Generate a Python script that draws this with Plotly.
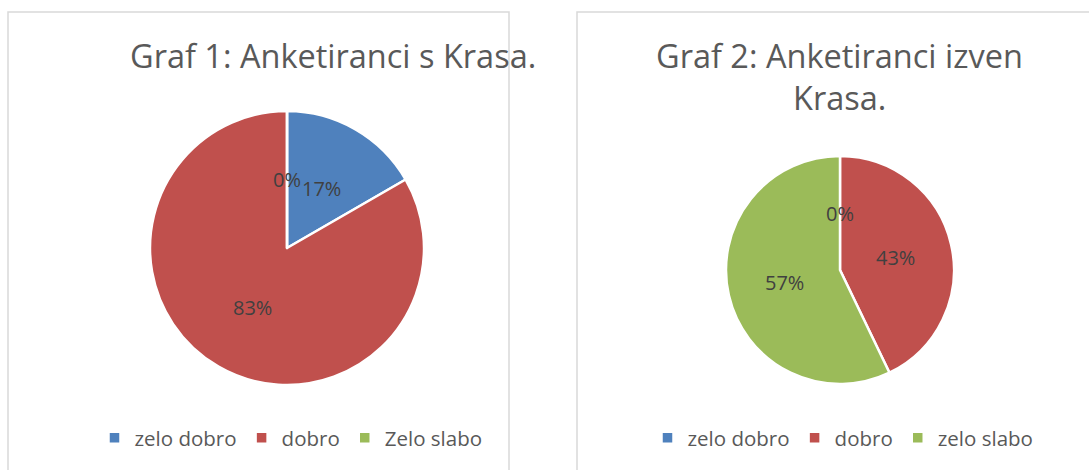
import math
import plotly.graph_objects as go

# ---- data ----
labels_1 = ["zelo dobro", "dobro", "Zelo slabo"]
values_1 = [1, 5, 0]
labels_2 = ["zelo dobro", "dobro", "zelo slabo"]
values_2 = [0, 3, 4]
title_1 = ["Graf 1: Anketiranci s Krasa."]
title_2 = ["Graf 2: Anketiranci izven", "Krasa."]
colors = ["#4F81BD", "#C0504D", "#9BBB59"]

W, H = 1089, 470
FONT = "'Open Sans', sans-serif"
TXT = "#595959"


def px(x):
    return x / W


def py(y):
    return 1 - y / H


# pie geometry (pixels): center, radius
pies = [
    dict(labels=labels_1, values=values_1, cx=287, cy=248, r=137, legend="legend", title=title_1,
         tx=333, ty=55),
    # zero-width suffix keeps the second legend's entries separate from the first one's
    dict(labels=[l + "\u200b" for l in labels_2], values=values_2, cx=840, cy=270, r=114,
         legend="legend2", title=title_2, tx=839, ty=55),
]

fig = go.Figure()
annotations = []
for p in pies:
    fig.add_trace(go.Pie(
        labels=p["labels"], values=p["values"], sort=False, direction="clockwise", rotation=0,
        marker=dict(colors=colors, line=dict(color="white", width=2.5)),
        textinfo="none", hoverinfo="label+percent",
        domain=dict(x=[px(p["cx"] - p["r"]), px(p["cx"] + p["r"])],
                    y=[py(p["cy"] + p["r"]), py(p["cy"] - p["r"])]),
        legend=p["legend"], showlegend=True,
    ))
    total = sum(p["values"])
    cum = 0
    for v in p["values"]:
        mid = (cum + v / 2) / total * 2 * math.pi
        cum += v
        lx = p["cx"] + 0.5 * p["r"] * math.sin(mid)
        ly = p["cy"] - 0.5 * p["r"] * math.cos(mid)
        annotations.append(dict(x=px(lx), y=py(ly), xref="paper", yref="paper", showarrow=False,
                                xanchor="center", yanchor="middle",
                                text=f"{round(100 * v / total)}%",
                                font=dict(family=FONT, size=20, color="#404040")))
    for i, line in enumerate(p["title"]):
        annotations.append(dict(x=px(p["tx"]), y=py(p["ty"] + 42 * i), xref="paper", yref="paper",
                                showarrow=False, text=line, xanchor="center", yanchor="middle",
                                font=dict(family=FONT, size=32.5, color=TXT)))

shapes = [
    dict(type="rect", xref="paper", yref="paper", x0=px(8), x1=px(509), y0=py(480), y1=py(12),
         line=dict(color="#D9D9D9", width=1.5)),
    dict(type="rect", xref="paper", yref="paper", x0=px(577), x1=px(1100), y0=py(480), y1=py(12),
         line=dict(color="#D9D9D9", width=1.5)),
]

legend_style = dict(orientation="h", xanchor="center", yanchor="middle",
                    font=dict(family=FONT, size=20.5, color=TXT), bgcolor="rgba(0,0,0,0)")

fig.update_layout(
    width=W, height=H, margin=dict(l=0, r=0, t=0, b=0),
    paper_bgcolor="white", plot_bgcolor="white",
    annotations=annotations, shapes=shapes,
    legend=dict(x=px(291), y=py(438), **legend_style),
    legend2=dict(x=px(843), y=py(438), **legend_style),
)

fig.write_html("out.html", config={"displayModeBar": False},
               post_script="document.body.style.margin='0';")
